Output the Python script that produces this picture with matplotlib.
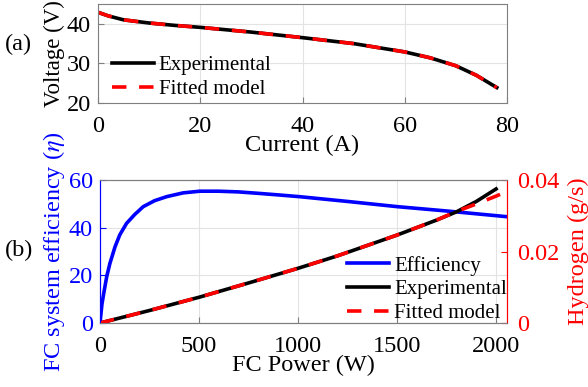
import matplotlib
matplotlib.use("Agg")
import matplotlib.pyplot as plt

# --- data ---
current = [0, 2, 5, 10, 15, 20, 30, 40, 50, 60, 65, 70, 74, 78]
voltage_exp = [42.9, 42.0, 41.0, 40.2, 39.6, 39.1, 37.9, 36.5, 35.0, 32.9, 31.4, 29.4, 27.0, 23.9]
voltage_fit = [42.9, 42.0, 41.0, 40.2, 39.6, 39.1, 37.9, 36.5, 35.0, 32.9, 31.4, 29.4, 27.0, 23.9]

eff_power = [0, 10, 20, 34, 50, 76, 100, 134, 175, 218, 275, 336, 420, 504,
             600, 700, 800, 907, 1008, 1250, 1503, 1750, 2055]
efficiency = [0, 8, 13, 19.5, 25, 32, 37, 41.8, 45.5, 48.8, 51.3, 53, 54.6, 55.3,
              55.3, 55, 54.4, 53.7, 53, 51, 48.8, 47, 44.6]

h2_power_exp = [0, 250, 500, 750, 1000, 1200, 1500, 1700, 1800, 1900, 2000]
h2_exp = [0, 0.0035, 0.0072, 0.0112, 0.0153, 0.0188, 0.0246, 0.0288, 0.0311, 0.0340, 0.0375]
h2_power_fit = [0, 250, 500, 750, 1000, 1200, 1500, 1700, 1800, 1900, 2000, 2055]
h2_fit = [0, 0.0035, 0.0072, 0.0112, 0.0153, 0.0188, 0.0246, 0.0288, 0.0312, 0.0333, 0.0355, 0.0368]

plt.rcParams['font.family'] = ['Liberation Serif', 'DejaVu Serif']
plt.rcParams['mathtext.fontset'] = 'stix'

W, H = 588, 387
fig = plt.figure(figsize=(W / 100, H / 100), dpi=100)

spine_c = '#7f7f7f'
grid_c = '#e3e3e3'
lw = 2.6
dash = (0, (4, 3.5))
tfs = 17.5   # tick font
lfs = 17.5   # axis label font
gfs = 15     # legend font
leg_kw = dict(fontsize=gfs, frameon=False, handlelength=2.0, borderpad=0,
              borderaxespad=0, labelspacing=0.2, handletextpad=0.25, loc='lower left')

# --- (a) polarization curve ---
ax1 = fig.add_axes([98 / W, 1 - 103 / H, 409 / W, 99 / H])
ax1.plot(current, voltage_exp, color='k', lw=lw, label='Experimental')
ax1.plot(current, voltage_fit, color='r', lw=lw, ls=dash, label='Fitted model')
ax1.set_xlim(0, 80)
ax1.set_ylim(20, 45)
ax1.set_xticks([0, 20, 40, 60, 80])
ax1.set_yticks([20, 30, 40])
ax1.grid(True, color=grid_c, lw=0.8)
ax1.set_axisbelow(True)
ax1.tick_params(axis='x', direction='in', labelsize=tfs, length=4, color=spine_c, pad=9)
ax1.tick_params(axis='y', direction='in', labelsize=tfs, length=4, color=spine_c, pad=5)
for s in ax1.spines.values():
    s.set_color(spine_c)
ax1.set_xlabel('Current (A)', fontsize=lfs, labelpad=-1)
ax1.set_ylabel('Voltage (V)', fontsize=16.5, labelpad=1)
ax1.legend(bbox_to_anchor=(0.034, 0.04), **leg_kw)
fig.text(5 / W, 1 - 44 / H, '(a)', fontsize=tfs, va='center', ha='left')

# --- (b) efficiency and hydrogen consumption ---
ax2 = fig.add_axes([100 / W, 1 - 323 / H, 407 / W, 143 / H])
ax3 = ax2.twinx()
l1, = ax2.plot(eff_power, efficiency, color='b', lw=lw, label='Efficiency')
l2, = ax3.plot(h2_power_exp, h2_exp, color='k', lw=lw, label='Experimental')
l3, = ax3.plot(h2_power_fit, h2_fit, color='r', lw=lw, ls=dash, label='Fitted model')
ax2.set_xlim(0, 2055)
ax2.set_ylim(0, 60)
ax3.set_ylim(0, 0.04)
ax2.set_xticks([0, 500, 1000, 1500, 2000])
ax2.set_yticks([0, 20, 40, 60])
ax3.set_yticks([0, 0.02, 0.04])
ax3.set_yticklabels(['0', '0.02', '0.04'])
ax2.grid(True, color=grid_c, lw=0.8)
ax2.set_axisbelow(True)
ax2.tick_params(axis='x', direction='in', labelsize=tfs, length=4, color=spine_c, pad=9)
ax2.tick_params(axis='y', direction='in', labelsize=tfs, length=4, colors='b', pad=5)
ax3.tick_params(axis='y', direction='in', labelsize=tfs, length=4, colors='r', pad=7)
for s in ['top', 'bottom']:
    ax2.spines[s].set_color(spine_c)
    ax3.spines[s].set_color(spine_c)
ax3.spines['left'].set_color('b')
ax3.spines['right'].set_color('r')
ax2.spines['left'].set_color('b')
ax2.spines['right'].set_color('r')
ax2.set_xlabel('FC Power (W)', fontsize=lfs, labelpad=-1)
ax2.set_ylabel(r'FC system efficiency ($\eta$)', fontsize=lfs, color='b', labelpad=1)
ax3.set_ylabel('Hydrogen (g/s)', fontsize=lfs, color='r', labelpad=6)
ax3.legend([l1, l2, l3], ['Efficiency', 'Experimental', 'Fitted model'],
           bbox_to_anchor=(0.607, 0.0), **leg_kw)
fig.text(5 / W, 1 - 250 / H, '(b)', fontsize=tfs, va='center', ha='left')

fig.savefig('out.png', dpi=100)
